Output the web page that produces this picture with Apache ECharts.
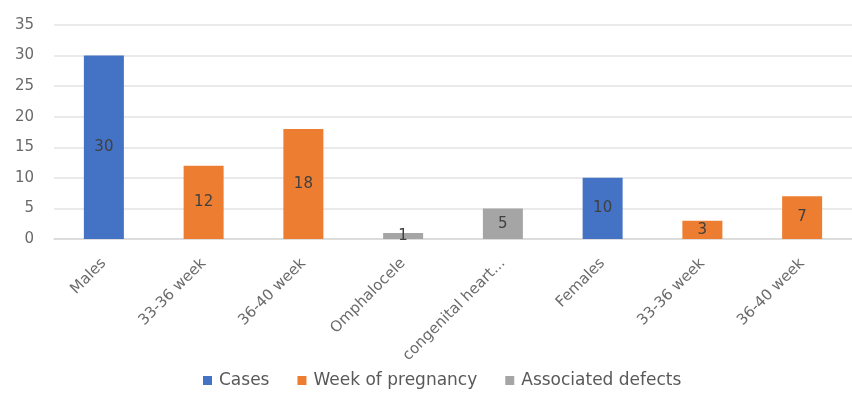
<!DOCTYPE html>
<html>
<head>
<meta charset="utf-8">
<script src="https://cdn.jsdelivr.net/npm/echarts@6/dist/echarts.min.js"></script>
<style>
  html, body { margin: 0; padding: 0; background: #fff; }
  #main { width: 852px; height: 394px; }
</style>
</head>
<body>
<div id="main"></div>
<script>
// categories and values
var categories = ['Males', '33-36 week', '36-40 week', 'Omphalocele', 'congenital heart...', 'Females', '33-36 week', '36-40 week'];
var cases = [30, '-', '-', '-', '-', 10, '-', '-'];
var weekOfPregnancy = ['-', 12, 18, '-', '-', '-', 3, 7];
var associatedDefects = ['-', '-', '-', 1, 5, '-', '-', '-'];
var yTicks = [0, 5, 10, 15, 20, 25, 30, 35];

var chart = echarts.init(document.getElementById('main'));

var fontName = 'DejaVu Sans';
// label style shared by the bars
var barLabel = {
    show: true,
    position: 'inside',
    color: '#404040',
    fontFamily: fontName,
    fontSize: 15
};

function makeSeries(name, data, color) {
    return {
        name: name,
        type: 'bar',
        stack: 'all',
        barWidth: 40,
        data: data,
        itemStyle: { color: color },
        label: barLabel
    };
}

var option = {
    animation: false,
    color: ['#4472C4', '#ED7D31', '#A5A5A5'],
    grid: {
        left: 54,
        right: 0,
        top: 25,
        bottom: 155
    },
    legend: {
        bottom: 0,
        left: 198,
        icon: 'rect',
        itemWidth: 9,
        itemHeight: 9,
        itemGap: 28,
        textStyle: {
            color: '#595959',
            fontFamily: fontName,
            fontSize: 17,
            padding: [0, 0, 0, 2]
        },
        data: ['Cases', 'Week of pregnancy', 'Associated defects']
    },
    xAxis: {
        type: 'category',
        data: categories,
        axisTick: { show: false },
        axisLine: { lineStyle: { color: '#d9d9d9', width: 1.5 } },
        axisLabel: {
            rotate: 45,
            margin: 22,
            interval: 0,
            color: '#6a6a6a',
            fontFamily: fontName,
            fontSize: 15
        }
    },
    yAxis: {
        type: 'value',
        min: yTicks[0],
        max: yTicks[yTicks.length - 1],
        interval: 5,
        axisLine: { show: false },
        axisTick: { show: false },
        splitLine: { lineStyle: { color: '#e3e3e3', width: 1.5 } },
        axisLabel: {
            margin: 20,
            color: '#6a6a6a',
            fontFamily: fontName,
            fontSize: 15
        }
    },
    series: [
        makeSeries('Cases', cases, '#4472C4'),
        makeSeries('Week of pregnancy', weekOfPregnancy, '#ED7D31'),
        makeSeries('Associated defects', associatedDefects, '#A5A5A5')
    ]
};

chart.setOption(option);
</script>
</body>
</html>
